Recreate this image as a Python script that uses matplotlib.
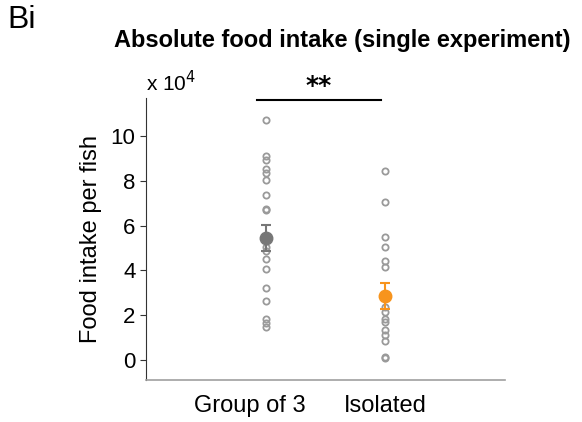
import numpy as np
import matplotlib
matplotlib.use('Agg')
import matplotlib.pyplot as plt

plt.rcParams['font.family'] = ['Liberation Sans', 'DejaVu Sans']

# valeurs (x 10^4)
groupes = ['Group of 3', 'Isolated']
groupe3 = [10.70, 9.11, 8.93, 8.53, 8.34, 8.06, 7.39, 6.75, 6.70, 5.05, 4.87,
           4.49, 4.04, 3.23, 2.63, 1.81, 1.63, 1.46]
isole = [8.44, 7.06, 5.47, 5.04, 4.41, 4.13, 2.38, 2.15, 1.83, 1.71, 1.34,
         1.11, 0.85, 0.15, 0.07]
moyennes = [5.45, 2.87]
sem = [0.57, 0.58]
couleurs = ['#777777', '#f7941d']

fig = plt.figure(figsize=(5.82, 4.22), dpi=100)
ax = fig.add_axes([0.2509, 0.0995, 0.6168, 0.668])

for i, vals in enumerate([groupe3, isole]):
    ax.plot(np.full(len(vals), i + 1), vals, 'o', ms=4.5, mfc='none',
            mec='#9a9a9a', mew=1.3, zorder=2)
    ax.errorbar(i + 1, moyennes[i], yerr=sem[i], fmt='o', ms=9,
                color=couleurs[i], ecolor=couleurs[i], elinewidth=1.5,
                capsize=3.5, capthick=1.5, zorder=3)

ax.set_xlim(0, 3)
ax.set_ylim(-0.9, 11.7)
ax.set_yticks([0, 2, 4, 6, 8, 10])
# les etiquettes ne sont pas centrees sur les points dans l'original
ax.set_xticks([0.87, 2])
ax.set_xticklabels(groupes, fontsize=17)
ax.tick_params(axis='x', length=0, pad=11)
ax.tick_params(axis='y', labelsize=16, length=4, direction='out', color='#333333')
ax.spines['top'].set_visible(False)
ax.spines['right'].set_visible(False)
ax.spines['left'].set_color('#333333')
ax.spines['bottom'].set_color('#a0a0a0')
ax.spines['bottom'].set_linewidth(1.2)
ax.set_ylabel('Food intake per fish', fontsize=17, labelpad=6)

# barre de significativite
ax.plot([0.925, 1.96], [11.6, 11.6], color='black', lw=1.5, clip_on=False)
ax.text(1.44, 11.72, '**', ha='center', va='bottom', fontsize=18,
        fontweight='bold', family='DejaVu Sans')

ax.text(0.0, 1.01, r'x 10$^4$', transform=ax.transAxes, fontsize=15,
        ha='left', va='bottom')

fig.text(0.588, 0.905, 'Absolute food intake (single experiment)', ha='center',
         va='center', fontsize=17, fontweight='bold')
fig.text(0.012, 0.952, 'Bi', ha='left', va='center', fontsize=23)

fig.savefig('out.png', dpi=100)
